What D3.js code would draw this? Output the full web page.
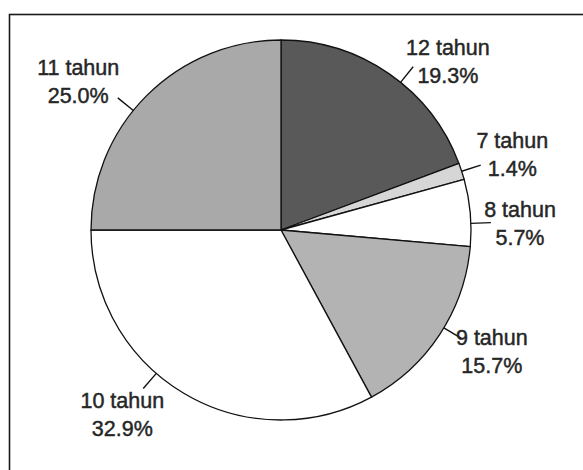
<!DOCTYPE html>
<html lang="en">

<head>
    <meta charset="UTF-8">
    <title>Umur</title>
    <script src="https://d3js.org/d3.v7.min.js"></script>
    <style>
        body {
            margin: 0;
            background: #fff;
        }

        .label {
            font-family: "Liberation Sans", Arial, sans-serif;
            font-size: 21.5px;
            fill: #262626;
            stroke: #262626;
            stroke-width: 0.45;
            text-anchor: middle;
        }
    </style>
</head>

<body>
    <svg id="chart" width="583" height="470"></svg>
</body>
<script>
    // slices in clockwise order, starting at 12 o'clock
    const categories = ["12 tahun", "7 tahun", "8 tahun", "9 tahun", "10 tahun", "11 tahun"];
    const values = [19.3, 1.4, 5.7, 15.7, 32.9, 25.0];
    const valueLabels = ["19.3%", "1.4%", "5.7%", "15.7%", "32.9%", "25.0%"];
    const fills = ["#595959", "#d6d6d6", "#ffffff", "#b3b3b3", "#ffffff", "#a9a9a9"];

    // label layout: angle (deg, clockwise from top) of leader and text block
    const leaderAngle = [39, 72, 88, 121, 221, 309];
    const textAngle = [46, 73.7, 90.2, 121.4, 219.6, 304.8];
    const textRadius = [232, 241, 239, 247, 249, 247];

    const width = 583, height = 470;
    const cx = 281, cy = 230, radius = 190;

    const svg = d3.select("#chart");

    // frame, runs off the right and bottom of the picture
    svg.append("rect")
        .attr("x", 9.5)
        .attr("y", 14.5)
        .attr("width", 700)
        .attr("height", 600)
        .attr("fill", "none")
        .attr("stroke", "#1a1a1a")
        .attr("stroke-width", 1.6);

    const g = svg.append("g").attr("transform", `translate(${cx},${cy})`);

    const pie = d3.pie().sort(null).value(d => d);
    const arc = d3.arc().innerRadius(0).outerRadius(radius);
    const arcs = pie(values);

    g.selectAll("path.slice")
        .data(arcs)
        .join("path")
        .attr("class", "slice")
        .attr("d", arc)
        .attr("fill", (d, i) => fills[i])
        .attr("stroke", "#111")
        .attr("stroke-width", 1.3)
        .attr("stroke-linejoin", "round");

    const rad = a => a * Math.PI / 180;

    // leader lines and labels
    categories.forEach((c, i) => {
        const p0 = d3.pointRadial(rad(leaderAngle[i]), radius);
        const p1 = d3.pointRadial(rad(leaderAngle[i]), radius + 20);
        g.append("line")
            .attr("x1", p0[0]).attr("y1", p0[1])
            .attr("x2", p1[0]).attr("y2", p1[1])
            .attr("stroke", "#111")
            .attr("stroke-width", 1.4);

        const t = d3.pointRadial(rad(textAngle[i]), textRadius[i]);
        const txt = g.append("text")
            .attr("class", "label")
            .attr("x", t[0])
            .attr("y", t[1]);
        txt.append("tspan").attr("x", t[0]).attr("dy", -14).text(c);
        txt.append("tspan").attr("x", t[0]).attr("dy", 28).text(valueLabels[i]);
    });
</script>

</html>
